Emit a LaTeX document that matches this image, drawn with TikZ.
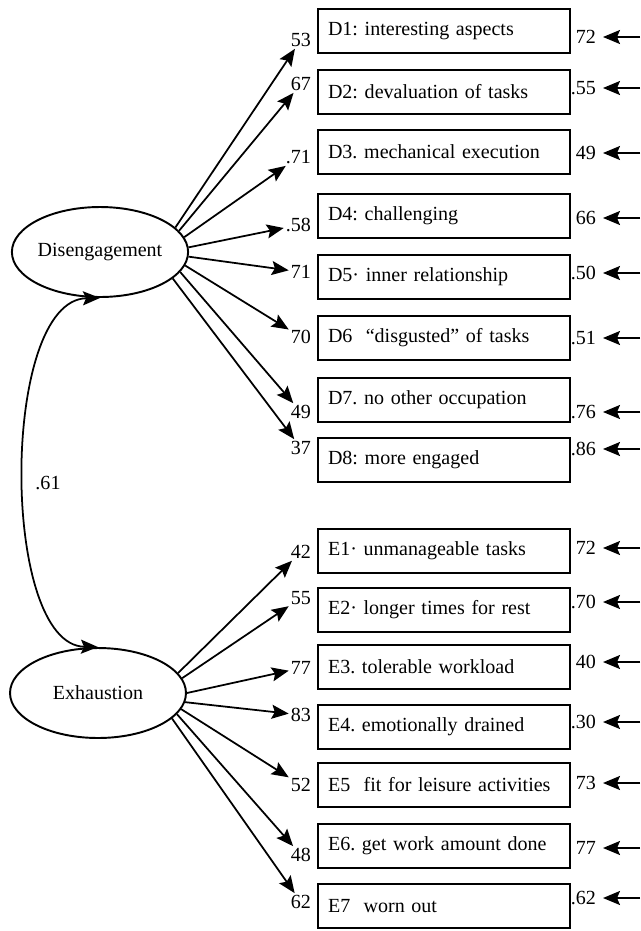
\documentclass[tikz,border=0pt]{standalone}
\usepackage{fontspec}
\setmainfont{Liberation Serif}
\usepackage{tikz}
\usetikzlibrary{arrows.meta,shapes.geometric}
\frenchspacing

\begin{document}
\begin{tikzpicture}[x=0.02cm,y=-0.02cm,
  every node/.style={font=\fontsize{11.4}{13}\selectfont},
  factor/.style={draw,ellipse,line width=1.1pt,minimum width=3.52cm,minimum height=1.8cm,inner sep=0pt},
  itembox/.style={draw,line width=1.1pt,minimum width=5.04cm,minimum height=0.88cm,inner xsep=2mm,text width=4.64cm,align=left},
  loadlbl/.style={anchor=east,inner sep=1pt},
  residlbl/.style={anchor=east,inner sep=1pt},
  arr/.style={-{Stealth[length=3.4mm,width=2.8mm,inset=0.6mm]},line width=1pt},
  dblarr/.style={{Stealth[length=3.4mm,width=2.8mm,inset=0.6mm]}-{Stealth[length=3.4mm,width=2.8mm,inset=0.6mm]},line width=1pt}]
  \useasboundingbox (0,0) rectangle (640,931);
  % latent factors
  \node[factor] (dis) at (100,252) {Disengagement};
  \node[factor] (exh) at (98,693) {Exhaustion};
  \draw[dblarr] (dis.south) .. controls (0,300) and (0,645) .. (exh.north);
  \node (cor) at (48,483) {.61};
  % disengagement items
  \node[itembox] (d1) at (444,31) {D1: interesting aspects};
  \node[itembox] (d2) at (444,92) {D2: devaluation of tasks};
  \node[itembox] (d3) at (444,152) {D3. mechanical execution};
  \node[itembox] (d4) at (444,216) {D4: challenging};
  \node[itembox] (d5) at (444,277) {D5· inner relationship};
  \node[itembox] (d6) at (444,338) {D6\ \ “disgusted” of tasks};
  \node[itembox] (d7) at (444,400) {D7. no other occupation};
  \node[itembox] (d8) at (444,460) {D8: more engaged};
  \node[loadlbl] (ld1) at (313,40) {53};
  \node[loadlbl] (ld2) at (313,84) {67};
  \node[loadlbl] (ld3) at (313,157) {.71};
  \node[loadlbl] (ld4) at (313,225) {.58};
  \node[loadlbl] (ld5) at (313,272) {71};
  \node[loadlbl] (ld6) at (313,337) {70};
  \node[loadlbl] (ld7) at (313,412) {49};
  \node[loadlbl] (ld8) at (313,448) {37};
  \draw[arr] (dis.18) -- (ld1);
  \draw[arr] (dis.15) -- (ld2);
  \draw[arr] (dis.10) -- (ld3);
  \draw[arr] (dis.3) -- (ld4);
  \draw[arr] (dis.-3) -- (ld5);
  \draw[arr] (dis.-9) -- (ld6);
  \draw[arr] (dis.-14) -- (ld7);
  \draw[arr] (dis.-20) -- (ld8);
  \node[residlbl] (rd1) at (598,37) {72};
  \node[residlbl] (rd2) at (598,88) {.55};
  \node[residlbl] (rd3) at (598,153) {49};
  \node[residlbl] (rd4) at (598,218) {66};
  \node[residlbl] (rd5) at (598,273) {.50};
  \node[residlbl] (rd6) at (598,338) {.51};
  \node[residlbl] (rd7) at (598,412) {.76};
  \node[residlbl] (rd8) at (598,449) {.86};
  \coordinate (ud1) at (640,37);
  \coordinate (ud2) at (640,88);
  \coordinate (ud3) at (640,153);
  \coordinate (ud4) at (640,218);
  \coordinate (ud5) at (640,273);
  \coordinate (ud6) at (640,338);
  \coordinate (ud7) at (640,412);
  \coordinate (ud8) at (640,449);
  \draw[arr,shorten >=1mm] (ud1) -- (rd1);
  \draw[arr,shorten >=1mm] (ud2) -- (rd2);
  \draw[arr,shorten >=1mm] (ud3) -- (rd3);
  \draw[arr,shorten >=1mm] (ud4) -- (rd4);
  \draw[arr,shorten >=1mm] (ud5) -- (rd5);
  \draw[arr,shorten >=1mm] (ud6) -- (rd6);
  \draw[arr,shorten >=1mm] (ud7) -- (rd7);
  \draw[arr,shorten >=1mm] (ud8) -- (rd8);
  % exhaustion items
  \node[itembox] (e1) at (444,551) {E1· unmanageable tasks};
  \node[itembox] (e2) at (444,610) {E2· longer times for rest};
  \node[itembox] (e3) at (444,667) {E3. tolerable workload};
  \node[itembox] (e4) at (444,727) {E4. emotionally drained};
  \node[itembox] (e5) at (444,785) {E5\ \ fit for leisure activities};
  \node[itembox] (e6) at (444,846) {E6. get work amount done};
  \node[itembox] (e7) at (444,906) {E7\ \ worn out};
  \node[loadlbl] (le1) at (313,552) {42};
  \node[loadlbl] (le2) at (313,598) {55};
  \node[loadlbl] (le3) at (313,668) {77};
  \node[loadlbl] (le4) at (313,715) {83};
  \node[loadlbl] (le5) at (313,785) {52};
  \node[loadlbl] (le6) at (313,855) {48};
  \node[loadlbl] (le7) at (313,902) {62};
  \draw[arr] (exh.14) -- (le1);
  \draw[arr] (exh.10) -- (le2);
  \draw[arr] (exh.0) -- (le3);
  \draw[arr] (exh.-6) -- (le4);
  \draw[arr] (exh.-11) -- (le5);
  \draw[arr] (exh.-15) -- (le6);
  \draw[arr] (exh.-19) -- (le7);
  \node[residlbl] (re1) at (598,548) {72};
  \node[residlbl] (re2) at (598,602) {.70};
  \node[residlbl] (re3) at (598,662) {40};
  \node[residlbl] (re4) at (598,722) {.30};
  \node[residlbl] (re5) at (598,783) {73};
  \node[residlbl] (re6) at (598,848) {77};
  \node[residlbl] (re7) at (598,898) {.62};
  \coordinate (ue1) at (640,548);
  \coordinate (ue2) at (640,602);
  \coordinate (ue3) at (640,662);
  \coordinate (ue4) at (640,722);
  \coordinate (ue5) at (640,783);
  \coordinate (ue6) at (640,848);
  \coordinate (ue7) at (640,898);
  \draw[arr,shorten >=1mm] (ue1) -- (re1);
  \draw[arr,shorten >=1mm] (ue2) -- (re2);
  \draw[arr,shorten >=1mm] (ue3) -- (re3);
  \draw[arr,shorten >=1mm] (ue4) -- (re4);
  \draw[arr,shorten >=1mm] (ue5) -- (re5);
  \draw[arr,shorten >=1mm] (ue6) -- (re6);
  \draw[arr,shorten >=1mm] (ue7) -- (re7);
\end{tikzpicture}
\end{document}
